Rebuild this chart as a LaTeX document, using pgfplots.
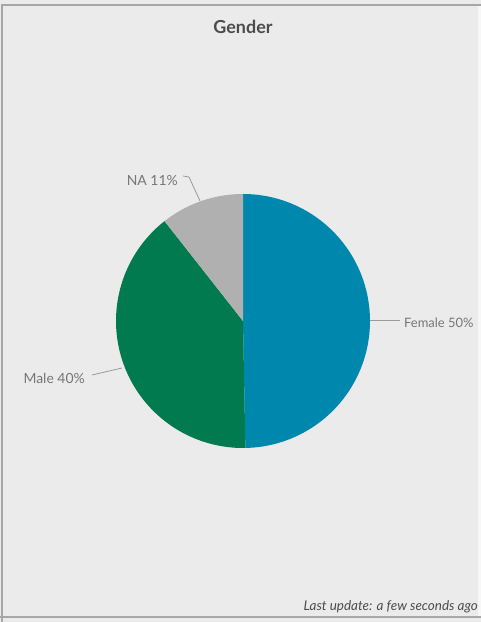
\documentclass[border=0pt]{standalone}
\usepackage{pgfplots}
\pgfplotsset{compat=1.18}
\usepackage{pgfplotstable}
\usepackage{fontspec}
\setmainfont{Lato}
\definecolor{bg}{HTML}{EBEBEB}
\definecolor{frame}{HTML}{A6A6A6}
\definecolor{fem}{HTML}{0087AD}
\definecolor{male}{HTML}{007A4E}
\definecolor{na}{HTML}{B0B0B0}
\definecolor{lbl}{HTML}{767676}
\definecolor{lead}{HTML}{9A9A9A}
\pgfplotstableread{
label value
Female 49.7
Male 39.7
NA 10.6
}\piedata
\pgfplotstablegetelem{0}{value}\of\piedata \let\vF\pgfplotsretval
\pgfplotstablegetelem{1}{value}\of\piedata \let\vM\pgfplotsretval
\pgfplotstablegetelem{2}{value}\of\piedata \let\vN\pgfplotsretval
\pgfmathsetmacro{\aF}{3.6*\vF}
\pgfmathsetmacro{\aM}{\aF+3.6*\vM}
\pgfmathsetmacro{\aN}{\aM+3.6*\vN}
\begin{document}
\begin{tikzpicture}
\begin{axis}[
  x=1bp, y=1bp, scale only axis, hide axis, clip=false,
  xmin=-243, xmax=238, ymin=-301, ymax=321,
]
% background
\fill[bg] (axis cs:-243,-301) rectangle (axis cs:238,321);
\fill[white!60!bg] (axis cs:235,-296) rectangle (axis cs:238,316);
% slices
\addplot[fill=fem, draw=none, domain=0:\aF, samples=120, smooth]
  ({127*sin(x)},{127*cos(x)}) -- (axis cs:0,0) -- cycle;
\addplot[fill=male, draw=none, domain=\aF:\aM, samples=120, smooth]
  ({127*sin(x)},{127*cos(x)}) -- (axis cs:0,0) -- cycle;
\addplot[fill=na, draw=none, domain=\aM:\aN, samples=60, smooth]
  ({127*sin(x)},{127*cos(x)}) -- (axis cs:0,0) -- cycle;
% leader lines
\draw[lead, line width=0.8bp] (axis cs:-60,145) -- (axis cs:-54,144) -- (axis cs:-43,120);
\draw[lead, line width=0.8bp] (axis cs:127,1) -- (axis cs:157,1);
\draw[lead, line width=0.8bp] (axis cs:-151,-54) -- (axis cs:-121,-47);
% labels
\node[anchor=east, inner sep=0pt, text=lbl, font=\fontsize{14}{16}\selectfont] at (axis cs:-65,140) {NA 11\%};
\node[anchor=east, inner sep=0pt, text=lbl, font=\fontsize{14}{16}\selectfont] at (axis cs:-158,-57) {Male 40\%};
\node[anchor=west, inner sep=0pt, text=lbl, font=\fontsize{13}{15}\selectfont] at (axis cs:161,-2) {Female 50\%};
% title
\node[text=black!70, font=\bfseries\fontsize{18}{20}\selectfont] at (axis cs:0,294) {Gender};
% footer
\node[anchor=east, inner sep=0pt, text=black!70, font=\itshape\fontsize{13.5}{15}\selectfont] at (axis cs:235,-286) {Last update: a few seconds ago};
% frame
\draw[frame, line width=1.2bp] (axis cs:-241,-301) -- (axis cs:-241,316) -- (axis cs:238,316);
\draw[frame, line width=1.2bp] (axis cs:-243,-296) -- (axis cs:238,-296);
\end{axis}
\pgfresetboundingbox
\path[use as bounding box] (current axis.south west) rectangle (current axis.north east);
\end{tikzpicture}
\end{document}
